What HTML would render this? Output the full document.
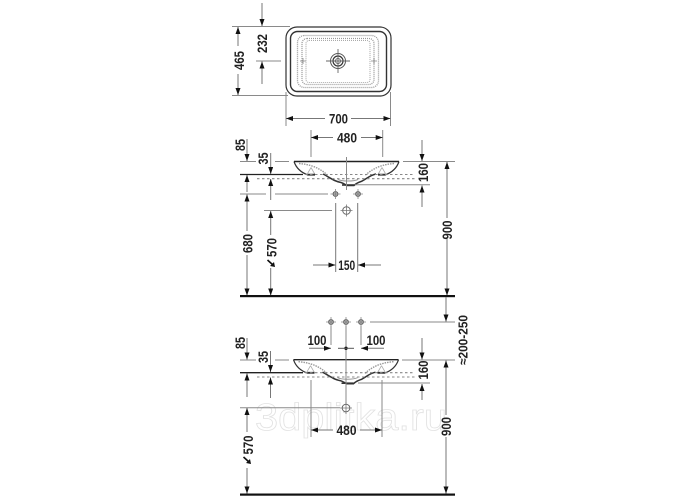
<!DOCTYPE html>
<html><head><meta charset="utf-8"><style>
html,body{margin:0;padding:0;background:#fff}
svg{display:block}
text{font-family:"Liberation Sans",sans-serif;font-weight:bold;font-size:14px;fill:#222;text-anchor:middle;dominant-baseline:central}
.d{stroke:#777;stroke-width:1;fill:none}
.e{stroke:#8a8a8a;stroke-width:1;fill:none}
</style></head><body>
<svg width="700" height="500" viewBox="0 0 700 500" xmlns="http://www.w3.org/2000/svg">
<defs>
<marker id="a" markerUnits="userSpaceOnUse" markerWidth="8" markerHeight="6" refX="7" refY="2.5" orient="auto"><path d="M0,0 L7,2.5 L0,5 Z" fill="#111"/></marker>
<g id="basin">
<path d="M0,0 C2,6 7,11 14,13.5 L21,13.5 M105,0 C103,6 98,11 91,13.5 L84,13.5" fill="none" stroke="#333" stroke-width="1.2"/>
<path d="M0,0 H105" stroke="#222" stroke-width="1.4"/>
<path d="M29,12.5 C36,16 40,20 47,21 C50,22 51,23 53,24 H60 C62,22 64,21 67,20 C72,18 75,14 82,12.5" fill="none" stroke="#333" stroke-width="1.5"/>
<path d="M5,2 C15,3 24,5 34,14 M100,2 C90,3 81,5 71,14" fill="none" stroke="#999" stroke-width="1.4" stroke-dasharray="1.5 1"/>
<path d="M44,18 C48,20 60,20 64,18" fill="none" stroke="#999" stroke-width="1"/>
<path d="M48,23.5 H60" stroke="#333" stroke-width="1.6"/>
<path d="M13,13 L17,6 M92,13 L88,6 M21,13 L17,6 M84,13 L88,6" stroke="#aaa" stroke-width=".8"/>
<path d="M14,13 L21,13 M84,13 L91,13" stroke="#333" stroke-width="1.6"/>
</g>
<g id="hole"><circle r="2.4" fill="#bbb" stroke="#555" stroke-width="1"/><circle r=".8" fill="#333"/><path d="M-5,0 H5 M0,-5 V5" stroke="#888" stroke-width=".8"/></g>
<g id="hole2"><circle r="3.8" fill="#fff" stroke="#666" stroke-width="1"/><path d="M-6,0 H6 M0,-6 V6" stroke="#777" stroke-width=".8"/></g>
<g id="tick"><path d="M-3.5,-3 L2,2" stroke="#111" stroke-width="1.6"/><path d="M4,4 L-1,3 L3,-1 Z" fill="#111"/></g>
</defs>

<!-- plan view -->
<rect x="286" y="27" width="105" height="69" rx="11" fill="none" stroke="#333" stroke-width="1.2"/>
<rect x="290.5" y="31.5" width="96" height="60" rx="7" fill="none" stroke="#333" stroke-width="1.4"/>
<rect x="297.5" y="35.5" width="81" height="52" rx="7" fill="none" stroke="#999" stroke-width="1.3" stroke-dasharray="1 1"/>
<rect x="302" y="38.5" width="72" height="46" rx="5" fill="none" stroke="#999" stroke-width="1.3" stroke-dasharray="1 1"/>
<rect x="306" y="40.5" width="64" height="42" rx="3" fill="none" stroke="#aaa" stroke-width="1.1" stroke-dasharray="1 1"/>
<path d="M300,61 H306 M303,58 V64 M371,61 H377 M374,58 V64" stroke="#888" stroke-width=".8"/>
<circle cx="338" cy="61" r="7.5" fill="none" stroke="#555" stroke-width="1"/>
<circle cx="338" cy="61" r="5" fill="none" stroke="#333" stroke-width="1.2"/>
<circle cx="338" cy="61" r="2.5" fill="none" stroke="#666" stroke-width="1"/>
<path d="M326,61 H350 M338,49 V73" stroke="#666" stroke-width=".9"/>

<path class="e" d="M232,26.5 H290 M232,95.5 H288 M256,61 H281 M286,92 V126 M390.5,92 V126"/>
<path class="d" d="M238,46 L238,27" marker-end="url(#a)"/>
<path class="d" d="M238,74 L238,95" marker-end="url(#a)"/>
<path class="d" d="M262,3 L262,26" marker-end="url(#a)"/>
<path class="d" d="M262,84 L262,61.5" marker-end="url(#a)"/>
<path class="d" d="M325,118.5 L286,118.5" marker-end="url(#a)"/>
<path class="d" d="M351,118.5 L390.5,118.5" marker-end="url(#a)"/>
<text transform="translate(239,60.5) rotate(-90)" textLength="19" lengthAdjust="spacingAndGlyphs">465</text>
<text transform="translate(262,43.5) rotate(-90)" textLength="19" lengthAdjust="spacingAndGlyphs">232</text>
<text x="338.5" y="118.5" textLength="19" lengthAdjust="spacingAndGlyphs">700</text>

<!-- side view 1 -->
<use href="#basin" x="294" y="161.5"/>
<path d="M240,174.5 H303" stroke="#222" stroke-width="1.3"/>
<path d="M305,174.5 H415 M257,178.7 H415" stroke="#888" stroke-width="1.1" stroke-dasharray="2.5 2.5" fill="none"/>
<path class="e" d="M240,161.5 H256 M275,161.5 H289 M403,161.5 H455 M355,184.7 H430 M311,130 V157 M382.7,130 V157 M346.5,157 V190 M240,194 H266 M275,194 H328 M264,210.5 H332"/>
<path class="d" d="M335.7,203 V272 M357.7,203 V272"/>
<use href="#hole" x="335.5" y="194"/>
<use href="#hole" x="358" y="194"/>
<use href="#hole2" x="346.5" y="210.5"/>
<path class="d" d="M333,137.5 L311,137.5" marker-end="url(#a)"/>
<path class="d" d="M361,137.5 L382.7,137.5" marker-end="url(#a)"/>
<text x="347" y="137.5" textLength="20" lengthAdjust="spacingAndGlyphs">480</text>
<path class="d" d="M247,139 L247,161" marker-end="url(#a)"/>
<path class="d" d="M247,192 L247,175" marker-end="url(#a)"/>
<path class="d" d="M247,231 L247,194.5" marker-end="url(#a)"/>
<path class="d" d="M247,255 L247,295.5" marker-end="url(#a)"/>
<path class="d" d="M270.7,153 L270.7,174" marker-end="url(#a)"/>
<path class="d" d="M270.7,200 L270.7,179" marker-end="url(#a)"/>
<path class="d" d="M270.7,235 L270.7,211" marker-end="url(#a)"/>
<path class="d" d="M270.7,268 L270.7,295.5" marker-end="url(#a)"/>
<path class="d" d="M422,140 L422,161" marker-end="url(#a)"/>
<path class="d" d="M422,207 L422,185.5" marker-end="url(#a)"/>
<path class="d" d="M447,218 L447,162" marker-end="url(#a)"/>
<path class="d" d="M447,239 L447,295.5" marker-end="url(#a)"/>
<path class="d" d="M313,265 L335.5,265" marker-end="url(#a)"/>
<path class="d" d="M381,265 L358,265" marker-end="url(#a)"/>
<text transform="translate(240,145) rotate(-90)" textLength="12" lengthAdjust="spacingAndGlyphs">85</text>
<text transform="translate(263,158.5) rotate(-90)" textLength="12" lengthAdjust="spacingAndGlyphs">35</text>
<text transform="translate(423,172.5) rotate(-90)" textLength="19" lengthAdjust="spacingAndGlyphs">160</text>
<text transform="translate(247.5,243.5) rotate(-90)" textLength="19" lengthAdjust="spacingAndGlyphs">680</text>
<text transform="translate(271.5,247.5) rotate(-90)" textLength="19" lengthAdjust="spacingAndGlyphs">570</text>
<text transform="translate(447,230) rotate(-90)" textLength="19" lengthAdjust="spacingAndGlyphs">900</text>
<text x="346.7" y="265" textLength="17" lengthAdjust="spacingAndGlyphs">150</text>
<use href="#tick" x="271" y="263"/>
<rect x="240" y="295" width="215" height="2.2" fill="#111"/>

<!-- watermark -->
<text x="351" y="430" textLength="192" lengthAdjust="spacingAndGlyphs" style="font-size:38px;font-weight:normal;fill:#fff;stroke:#e2e2e2;stroke-width:.8;dominant-baseline:auto">3dplitka.ru</text>

<!-- side view 2 -->
<use href="#basin" x="293.5" y="359.7"/>
<path d="M240,372.7 H303" stroke="#222" stroke-width="1.3"/>
<path d="M305,372.7 H415 M257,377 H415" stroke="#888" stroke-width="1.1" stroke-dasharray="2.5 2.5" fill="none"/>
<path class="e" d="M240,360 H256 M275,360 H289 M402,360 H455 M358,383 H430 M370,322 H455 M311,380 V437 M382,380 V437 M346,326 V404 M331,326 V345 M361,326 V345 M240,407.7 H340"/>
<use href="#hole" x="331" y="322"/>
<use href="#hole" x="346" y="322"/>
<use href="#hole" x="361" y="322"/>
<use href="#hole2" x="346" y="408"/>
<circle cx="346" cy="348.3" r="1.7" fill="#111"/>
<path d="M338,348.3 H354" stroke="#555" stroke-width="1"/>
<path class="d" d="M309,348.3 L331,348.3" marker-end="url(#a)"/>
<path class="d" d="M384,348.3 L361,348.3" marker-end="url(#a)"/>
<text x="317" y="340" textLength="19" lengthAdjust="spacingAndGlyphs">100</text>
<text x="376" y="340" textLength="19" lengthAdjust="spacingAndGlyphs">100</text>
<path class="d" d="M446,297 L446,321.5" marker-end="url(#a)"/>
<text transform="translate(463,340) rotate(-90)" style="font-size:13px" textLength="50" lengthAdjust="spacingAndGlyphs">≈200-250</text>
<path class="d" d="M247,338 L247,359.5" marker-end="url(#a)"/>
<path class="d" d="M247,397 L247,373.5" marker-end="url(#a)"/>
<path class="d" d="M247,432 L247,408" marker-end="url(#a)"/>
<path class="d" d="M247,468 L247,493.5" marker-end="url(#a)"/>
<path class="d" d="M270.5,351 L270.5,372" marker-end="url(#a)"/>
<path class="d" d="M270.5,398 L270.5,377.5" marker-end="url(#a)"/>
<path class="d" d="M422,338 L422,359.5" marker-end="url(#a)"/>
<path class="d" d="M422,400 L422,384" marker-end="url(#a)"/>
<path class="d" d="M446,415 L446,360.5" marker-end="url(#a)"/>
<path class="d" d="M446,437 L446,493.5" marker-end="url(#a)"/>
<path class="d" d="M333,430 L311,430" marker-end="url(#a)"/>
<path class="d" d="M360,430 L382,430" marker-end="url(#a)"/>
<text x="346.5" y="430" textLength="20" lengthAdjust="spacingAndGlyphs">480</text>
<text transform="translate(240,343) rotate(-90)" textLength="12" lengthAdjust="spacingAndGlyphs">85</text>
<text transform="translate(263,357) rotate(-90)" textLength="12" lengthAdjust="spacingAndGlyphs">35</text>
<text transform="translate(423,370) rotate(-90)" textLength="19" lengthAdjust="spacingAndGlyphs">160</text>
<text transform="translate(248,445) rotate(-90)" textLength="19" lengthAdjust="spacingAndGlyphs">570</text>
<text transform="translate(446,426.5) rotate(-90)" textLength="19" lengthAdjust="spacingAndGlyphs">900</text>
<use href="#tick" x="247" y="460"/>
<rect x="240" y="493.5" width="215" height="2.2" fill="#111"/>
</svg>
</body></html>
